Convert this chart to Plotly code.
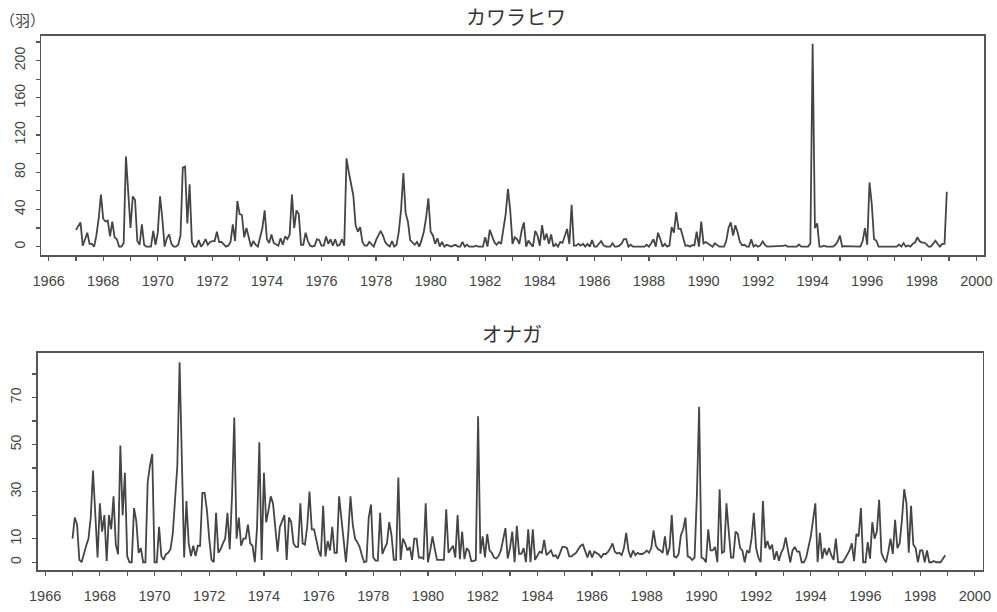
import numpy as np
import plotly.graph_objects as go

start_year = 1967

# カワラヒワ monthly counts, Jan 1967 - Dec 1998 (one row per year)
kawarahiwa = [
    18, 22, 26, 1, 8, 15, 3, 3, 0, 12, 30, 56,
    30, 27, 28, 11, 27, 10, 8, 0, 0, 4, 97, 58,
    20, 54, 50, 6, 2, 24, 2, 0, 0, 0, 17, 2,
    15, 54, 30, 0, 9, 13, 3, 0, 0, 2, 12, 85,
    86, 25, 67, 5, 0, 0, 7, 0, 3, 8, 2, 5,
    6, 6, 16, 5, 5, 2, 0, 1, 5, 24, 6, 49,
    35, 34, 10, 20, 9, 0, 6, 2, 0, 10, 20, 39,
    8, 4, 13, 4, 2, 1, 9, 2, 11, 8, 13, 56,
    20, 39, 35, 2, 2, 15, 6, 1, 0, 1, 8, 7,
    1, 1, 11, 3, 8, 1, 8, 1, 2, 8, 1, 95,
    80, 66, 55, 23, 16, 21, 5, 1, 1, 5, 2, 0,
    7, 12, 17, 12, 5, 2, 0, 6, 0, 2, 16, 40,
    79, 36, 27, 7, 5, 2, 5, 0, 7, 16, 31, 52,
    16, 12, 3, 9, 0, 5, 0, 2, 1, 0, 1, 2,
    0, 0, 5, 0, 2, 0, 0, 0, 1, 0, 0, 0,
    10, 0, 18, 11, 5, 2, 5, 3, 17, 35, 62, 39,
    3, 10, 8, 3, 17, 26, 0, 6.5, 3, 0, 17, 12,
    1, 23, 7, 14, 3, 13, 0, 3, 0, 5, 4, 11,
    19, 3, 45, 1, 1, 3, 1, 3, 0, 3, 0, 7,
    0, 0, 3, 6, 1.5, 0, 0, 0, 3.6, 0, 0, 1,
    3.5, 8, 8, 0, 2, 0, 0, 0, 0, 0, 0, 2,
    0, 3.6, 8, 0, 15, 8, 0, 3, 0, 1, 21, 15,
    37, 19, 19, 10, 1, 1.4, 0, 1.5, 1.5, 16, 0, 27,
    3.5, 5, 3.6, 1.8, 0, 3.6, 2, 0, 0, 0, 6, 20,
    26, 12, 23, 15.5, 5, 1.4, 2, 0, 0, 8, 0, 1.8,
    0, 1.3, 5.6, 2, 0, 0, 0, 0, 0, 0, 0, 0.7,
    1.5, 0, 0, 0, 0, 0, 2.3, 0, 0, 0, 0, 3.5,
    218, 20, 25, 0, 0, 1, 0, 0, 0, 0, 2, 5.5,
    12, 0, 0.5, 0.5, 0, 0, 0, 0, 0, 0, 6, 20,
    2, 69, 46, 8, 6.5, 0, 0, 0, 0, 0, 0, 0,
    0, 0, 2.4, 0, 3.8, 0, 1.3, 0, 3, 4.4, 10, 6,
    4.4, 4.4, 2.7, 0, 0, 2.8, 6.4, 2.8, 0, 2.9, 2.9, 59,
]

# オナガ monthly counts, Jan 1967 - Dec 1998 (one row per year)
onaga = [
    10, 19, 16, 1, 0, 4, 7, 10, 19, 39, 17, 2,
    25, 13, 20, 0.5, 20, 14, 28, 7.6, 3.4, 49.6, 20, 38,
    2.6, 0, 0, 23, 17.5, 4, 6, 0, 0, 34, 41, 46,
    0, 0, 15, 2.6, 1, 3.4, 4, 5.5, 12, 25, 41, 85,
    40, 2, 26, 8, 2.6, 7, 2.6, 7, 7, 29.5, 29.5, 22,
    10, 1, 0, 21, 4, 5.5, 8, 10, 21, 5.5, 28, 61.5,
    10, 19, 7, 10, 10, 16, 8, 7, 0, 15, 51, 1,
    38, 17, 22, 28, 25, 14, 4.5, 15, 18, 20, 1, 19,
    17, 8, 6.5, 6.5, 25, 8, 7.5, 15, 30, 14, 14, 10,
    5, 2.5, 24, 2.5, 9, 5, 15, 4, 4, 28, 19, 8,
    0, 12, 28, 16, 10, 8.5, 6.5, 3, 0, 0.4, 19, 24.5,
    2, 0.7, 0.7, 21, 3.5, 6, 8, 17, 11.5, 1, 1, 36,
    1, 10, 8, 5, 6.5, 1, 10, 10, 2, 2, 1.5, 25,
    0, 5, 11, 5.5, 1, 1, 1, 1, 22.5, 4, 5.5, 7,
    2, 20, 1.3, 13, 1.3, 6, 4.7, 0.5, 0.5, 1, 62, 3.6,
    11, 2, 12, 5, 4, 2, 1.6, 2.6, 5, 9.5, 14.5, 1.6,
    6, 13, 0, 15.5, 3.6, 3.6, 6, 0, 14, 0, 14, 1,
    3, 4.5, 4, 9.5, 3, 4, 5, 2.5, 3, 1.5, 4, 6.5,
    6.5, 6, 2.5, 2.5, 3.3, 4, 5.5, 7, 7.5, 4.5, 2, 5,
    2, 4.5, 4, 3.3, 2, 3.5, 3.5, 4.4, 6, 8, 4.5, 3.7,
    4, 3, 6, 12.5, 5, 2, 5, 3, 4, 3.5, 3.5, 4,
    5, 4, 6, 13.5, 7, 5.5, 5, 4, 11, 3, 6, 20,
    2.5, 2, 3.5, 11.5, 14, 19, 2.5, 2, 1, 2, 28, 66,
    2, 1.5, 0, 14, 5, 5, 6.5, 0, 31, 4, 4.5, 25,
    13, 2, 2, 13, 12, 6, 5, 0, 5, 4, 10, 21,
    6, 2, 0, 26, 6, 9, 5.5, 7.5, 1, 4.7, 0.6, 4,
    6, 10.5, 5, 0, 5, 6.5, 4.5, 4.5, 0, 0, 2, 6,
    11, 18, 25, 0, 12.5, 1.5, 6, 3, 6, 3, 1, 10,
    0, 0, 0, 1.5, 3, 5, 8, 0.5, 12, 11, 23, 0,
    0, 8.5, 1.5, 17, 10, 13, 26.5, 4, 1.5, 0, 4.5, 10,
    3.5, 18, 6, 8, 18, 31, 25, 4, 24, 7.5, 6, 0,
    5, 5, 0, 5, 0, 0, 0.5, 0, 0, 0, 1.5, 3,
]

year_ticks = list(range(1966, 2001))
year_labels = [str(y) if y % 2 == 0 else "" for y in year_ticks]
top_yticks = list(range(0, 221, 20))
top_ylabels = [str(v) if v % 40 == 0 else "" for v in top_yticks]
bot_yticks = list(range(0, 81, 10))
bot_ylabels = [str(v) if v in (0, 10, 30, 50, 70) else "" for v in bot_yticks]

t_top = start_year + np.arange(len(kawarahiwa)) / 12.0
t_bot = start_year + np.arange(len(onaga)) / 12.0

# page body margin is removed by the post script, so the figure fills the window
W, H = 997, 612


def px(x):
    return x / W


def py(y):
    return 1 - y / H


line_col = "#454545"
axis_col = "#555555"
text_col = "#444444"

fig = go.Figure()
fig.add_trace(go.Scatter(x=t_top, y=kawarahiwa, mode="lines",
                         line=dict(color=line_col, width=1.8),
                         xaxis="x", yaxis="y", showlegend=False))
fig.add_trace(go.Scatter(x=t_bot, y=onaga, mode="lines",
                         line=dict(color=line_col, width=1.8),
                         xaxis="x2", yaxis="y2", showlegend=False))


def xax(domain, anchor):
    return dict(domain=domain, anchor=anchor, range=[1965.72, 2000.28],
                tickvals=year_ticks, ticktext=year_labels,
                ticks="outside", ticklen=4, tickwidth=1.2, tickcolor=axis_col,
                showline=True, mirror=True, linecolor=axis_col, linewidth=1.5,
                showgrid=False, zeroline=False, automargin=False,
                ticklabelstandoff=8, ticklabeloverflow="allow",
                tickfont=dict(family="Liberation Sans, Arial", size=14.5, color=text_col))


def yax(domain, anchor, rng, vals, texts):
    return dict(domain=domain, anchor=anchor, range=rng,
                tickvals=vals, ticktext=texts, tickangle=-90,
                ticks="outside", ticklen=4, tickwidth=1.2, tickcolor=axis_col,
                showline=True, mirror=True, linecolor=axis_col, linewidth=1.5,
                showgrid=False, zeroline=False, automargin=False,
                ticklabelstandoff=5, ticklabeloverflow="allow",
                tickfont=dict(family="Liberation Sans, Arial", size=14, color=text_col))


fig.update_layout(
    width=W, height=H,
    margin=dict(l=0, r=0, t=0, b=0),
    paper_bgcolor="white", plot_bgcolor="white",
    hovermode=False,
    xaxis=xax([px(41), px(984)], "y"),
    yaxis=yax([py(255), py(35.5)], "x", [-9, 227], top_yticks, top_ylabels),
    xaxis2=xax([px(37.5), px(982.5)], "y2"),
    yaxis2=yax([py(570), py(352.5)], "x2", [-3.3, 89.1], bot_yticks, bot_ylabels),
    annotations=[
        dict(text="カワラヒワ", x=px(516), y=py(16), xref="paper", yref="paper",
             showarrow=False, xanchor="center", yanchor="middle",
             font=dict(family="Noto Sans CJK JP", size=20, color="#333333")),
        dict(text="オナガ", x=px(512), y=py(334), xref="paper", yref="paper",
             showarrow=False, xanchor="center", yanchor="middle",
             font=dict(family="Noto Sans CJK JP", size=20, color="#333333")),
        dict(text="（羽）", x=px(22), y=py(19), xref="paper", yref="paper",
             showarrow=False, xanchor="center", yanchor="middle",
             font=dict(family="Noto Sans CJK JP", size=15, color="#444444")),
    ],
)

fig.write_html(
    "out.html",
    config={"displayModeBar": False, "staticPlot": True},
    post_script="document.body.style.margin='0px';document.body.style.overflow='hidden';",
)
